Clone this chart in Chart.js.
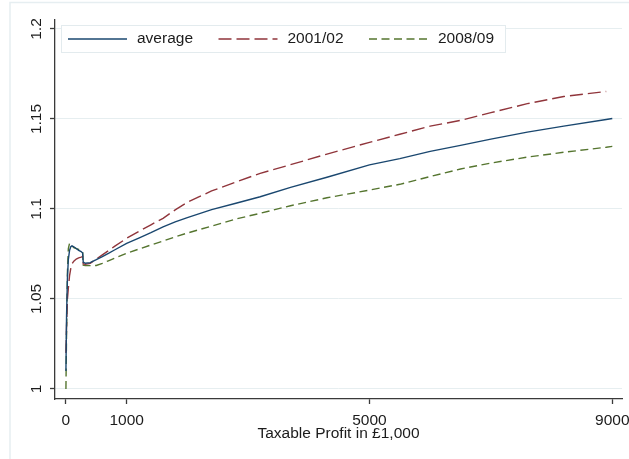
<!DOCTYPE html>
<html>
<head>
<meta charset="utf-8">
<script src="https://cdn.jsdelivr.net/npm/chart.js@4/dist/chart.umd.min.js"></script>
<style>
  body { margin: 0; background: #fff; }
</style>
</head>
<body>
<canvas id="Chart" width="629" height="459"></canvas>
<script>
// taxable profit (in £1,000) at which each curve was read
const profit = [0, 10, 25, 40, 60, 80, 100, 130, 170, 210, 250, 275, 285, 320, 400, 500, 600, 700, 800,
  1000, 1200, 1400, 1600, 1800, 2000, 2400, 2800, 3200, 3700, 4300, 5000, 5500, 6000, 6500, 7000,
  7600, 8200, 8900, 9000]

const average = [1.01, 1.04, 1.062, 1.072, 1.077, 1.079, 1.0795, 1.079, 1.078, 1.077, 1.0763, 1.0755, 1.0705,
  1.0698, 1.0702, 1.0718, 1.0735, 1.0753, 1.0772, 1.0809, 1.0838, 1.0868, 1.09, 1.0928, 1.0952,
  1.0996, 1.1032, 1.1068, 1.112, 1.1176, 1.1245, 1.128, 1.132, 1.1353, 1.1388, 1.1427, 1.146,
  1.1497, 1.1503]

const y2001 = [1.02, 1.035, 1.05, 1.056, 1.063, 1.067, 1.0695, 1.071, 1.0722, 1.0728, 1.0732, 1.0735, 1.0695,
  1.0692, 1.0698, 1.0722, 1.0745, 1.0768, 1.0792, 1.0837, 1.0875, 1.0912, 1.0948, 1.0995, 1.1037,
  1.11, 1.115, 1.1198, 1.1246, 1.1305, 1.137, 1.1415, 1.146, 1.1492, 1.1535, 1.1585, 1.1625,
  1.1653, null]

const y2008 = [1.0, 1.03, 1.065, 1.078, 1.081, 1.0805, 1.0795, 1.0785, 1.078, 1.0775, 1.077, 1.0765, 1.0688,
  1.0685, 1.0685, 1.0686, 1.0698, 1.0712, 1.0726, 1.0754, 1.0777, 1.08, 1.0822, 1.0845, 1.0866,
  1.0905, 1.0944, 1.0976, 1.1018, 1.1062, 1.1105, 1.1137, 1.118, 1.1222, 1.1255, 1.1288, 1.1315,
  1.1343, 1.1348]

const seriesNames = ['average', '2001/02', '2008/09']
const xTicks = [0, 1000, 5000, 9000]
const xTickLabels = ['0', '1000', '5000', '9000']
const yTicks = [1, 1.05, 1.1, 1.15, 1.2]
const yTickLabels = ['1', '1.05', '1.1', '1.15', '1.2']

const FONT = {family: "'Liberation Sans', Arial, sans-serif", size: 15.5}
const TEXT = '#1c1c1c'
const AXIS = '#3a3a3a'

function points(values) {
  return profit.map((p, i) => ({x: p, y: values[i]}))
}

// white background and the faint outer frame
const frame = {
  id: 'frame',
  beforeDraw(chart) {
    const c = chart.ctx
    c.save()
    c.fillStyle = '#fff'
    c.fillRect(0, 0, chart.width, chart.height)
    c.strokeStyle = '#e6eef1'
    c.lineWidth = 1.5
    c.strokeRect(10, 2.5, chart.width + 20, chart.height + 20)
    c.restore()
  }
}

// legend box inside the plot, one column per dataset
const boxLegend = {
  id: 'boxLegend',
  afterDraw(chart) {
    const c = chart.ctx
    c.save()
    c.fillStyle = '#fff'
    c.fillRect(61.5, 25.5, 444, 27)
    c.strokeStyle = '#e3ebee'
    c.lineWidth = 1
    c.strokeRect(61.5, 25.5, 444, 27)
    const y = 39
    chart.data.datasets.forEach((ds, i) => {
      const x0 = 68 + i * 150.5
      c.beginPath()
      c.strokeStyle = ds.borderColor
      c.lineWidth = ds.borderWidth
      c.setLineDash(ds.borderDash || [])
      c.moveTo(x0, y)
      c.lineTo(x0 + 59, y)
      c.stroke()
      c.setLineDash([])
      c.fillStyle = TEXT
      c.font = FONT.size + 'px ' + FONT.family
      c.textBaseline = 'middle'
      c.textAlign = 'left'
      c.fillText(ds.label, x0 + 69, y)
    })
    c.restore()
  }
}

const ctx = document.getElementById('Chart').getContext('2d')
const myChart = new Chart(ctx, {
  type: 'line',
  data: {
    datasets: [
      {label: seriesNames[0], data: points(average), borderColor: '#1a476f', borderWidth: 1.4},
      {label: seriesNames[1], data: points(y2001), borderColor: '#90353b', borderWidth: 1.4, borderDash: [13, 5]},
      {label: seriesNames[2], data: points(y2008), borderColor: '#55752f', borderWidth: 1.4, borderDash: [8, 4.5]}
    ]
  },
  options: {
    responsive: false,
    animation: false,
    layout: {padding: {left: 10, top: 20, right: 7, bottom: 0}},
    elements: {point: {radius: 0}, line: {tension: 0}},
    plugins: {legend: {display: false}, tooltip: {enabled: false}},
    scales: {
      x: {
        type: 'linear',
        min: -180,
        max: 9160,
        afterBuildTicks: s => { s.ticks = xTicks.map(v => ({value: v})) },
        afterFit: s => { s.height = 60; s.paddingLeft = 0; s.paddingRight = 0 },
        border: {color: AXIS, width: 1.3},
        grid: {drawOnChartArea: false, tickLength: 5, tickColor: AXIS, tickWidth: 1.3},
        ticks: {
          autoSkip: false, maxRotation: 0, padding: 7, color: TEXT, font: FONT,
          callback: (v, i) => xTickLabels[i]
        },
        title: {
          display: true, text: 'Taxable Profit in £1,000', color: TEXT, font: FONT,
          padding: {top: 0, bottom: 16}
        }
      },
      y: {
        min: 0.9944,
        max: 1.205,
        afterBuildTicks: s => { s.ticks = yTicks.map(v => ({value: v})) },
        afterFit: s => { s.width = 45; s.paddingTop = 0; s.paddingBottom = 0 },
        border: {color: AXIS, width: 1.3},
        grid: {color: '#e6eef0', lineWidth: 1, tickLength: 5, tickColor: AXIS, tickWidth: 1.3},
        ticks: {
          minRotation: 90, maxRotation: 90, crossAlign: 'center', padding: -2,
          color: TEXT, font: FONT,
          callback: (v, i) => yTickLabels[i]
        }
      }
    }
  },
  plugins: [frame, boxLegend]
})
</script>
</body>
</html>
